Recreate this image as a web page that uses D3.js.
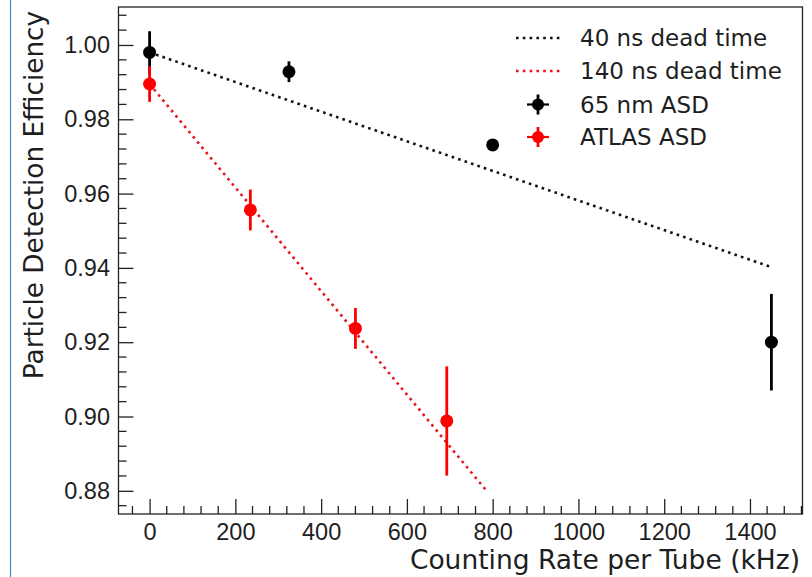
<!DOCTYPE html>
<html>
<head>
<meta charset="utf-8">
<script src="https://cdn.jsdelivr.net/npm/d3@7/dist/d3.min.js"></script>
<style>
  html, body { margin: 0; padding: 0; background: #fff; }
  svg { display: block; font-family: "DejaVu Sans", sans-serif; }
</style>
</head>
<body>
<svg id="chart" width="812" height="577"></svg>
<script>
// ---- data ----
const xTicks = [0, 200, 400, 600, 800, 1000, 1200, 1400];
const yTicks = [0.88, 0.90, 0.92, 0.94, 0.96, 0.98, 1.00];

const asd65Rate = [0, 325, 800, 1450];
const asd65Eff  = [0.998, 0.9928, 0.9731, 0.9200];
const asd65Err  = [0.0057, 0.0028, 0.0008, 0.0130];

const atlasRate = [0, 235, 480, 693];
const atlasEff  = [0.9895, 0.9556, 0.9237, 0.8988];
const atlasErr  = [0.0048, 0.0055, 0.0055, 0.0147];

const dt40Rate  = [0, 1450];
const dt40Eff   = [0.998, 0.9402];
const dt140Rate = [0, 788];
const dt140Eff  = [0.9895, 0.8797];

const legendLabels = ["40 ns dead time", "140 ns dead time", "65 nm ASD", "ATLAS ASD"];

// ---- layout ----
const svg = d3.select("#chart");
const L = 118.5, R = 802.5, T = 7, B = 514;
const x = d3.scaleLinear().domain([-72.5, 1522.5]).range([L, R]);
const y = d3.scaleLinear().domain([0.87376, 1.01022]).range([B, T]);
const axisColor = "#222";
const textColor = "#1e1e1e";

// blue edge line
svg.append("line").attr("x1", 10.5).attr("x2", 10.5).attr("y1", 0).attr("y2", 577)
  .attr("stroke", "#4a86c8").attr("stroke-width", 1.2);

// minor ticks
const xMinor = d3.range(-40, 1521, 40).filter(v => Math.abs(v % 200) > 1e-6);
const yMinor = d3.range(0, 34).map(i => 0.876 + i * 0.004)
  .filter(v => v < 1.01 && Math.abs((v * 1000) % 20) > 1e-3 && Math.abs((v * 1000) % 20 - 20) > 1e-3);

const g = svg.append("g");

// x axis
const xAxis = d3.axisBottom(x).tickValues(xTicks).tickSizeInner(-15).tickSizeOuter(0).tickPadding(0).tickFormat(d3.format("d"));
const gx = g.append("g").attr("transform", `translate(0,${B})`).call(xAxis);
gx.select(".domain").remove();
gx.selectAll("line").attr("stroke", axisColor).attr("stroke-width", 1.3);
gx.selectAll("text").attr("font-size", 23.5).attr("fill", textColor).attr("y", 26).attr("dy", 0);
g.append("g").selectAll("line").data(xMinor).join("line")
  .attr("x1", d => x(d)).attr("x2", d => x(d)).attr("y1", B).attr("y2", B - 8)
  .attr("stroke", axisColor).attr("stroke-width", 1.3);

// y axis
const yAxis = d3.axisLeft(y).tickValues(yTicks).tickSizeInner(-15).tickSizeOuter(0).tickPadding(8.5).tickFormat(d3.format(".2f"));
const gy = g.append("g").attr("transform", `translate(${L},0)`).call(yAxis);
gy.select(".domain").remove();
gy.selectAll("line").attr("stroke", axisColor).attr("stroke-width", 1.3);
gy.selectAll("text").attr("font-size", 23.5).attr("fill", textColor);
g.append("g").selectAll("line").data(yMinor).join("line")
  .attr("x1", L).attr("x2", L + 8).attr("y1", d => y(d)).attr("y2", d => y(d))
  .attr("stroke", axisColor).attr("stroke-width", 1.3);

// frame
svg.append("rect").attr("x", L).attr("y", T).attr("width", R - L).attr("height", B - T)
  .attr("fill", "none").attr("stroke", axisColor).attr("stroke-width", 1.3);

// axis labels
svg.append("text").attr("x", 800).attr("y", 569).attr("text-anchor", "end")
  .attr("font-size", 26.5).attr("fill", textColor).text("Counting Rate per Tube (kHz)");
svg.append("text").attr("transform", `translate(43,195) rotate(-90)`)
  .attr("text-anchor", "middle").attr("font-size", 26.3).attr("fill", textColor)
  .text("Particle Detection Efficiency");

// dead-time lines
const line = d3.line().x(d => x(d[0])).y(d => y(d[1]));
svg.append("path").datum(d3.zip(dt40Rate, dt40Eff)).attr("d", line)
  .attr("fill", "none").attr("stroke", "#111").attr("stroke-width", 2.6)
  .attr("stroke-dasharray", "2.6 4.2");
svg.append("path").datum(d3.zip(dt140Rate, dt140Eff)).attr("d", line)
  .attr("fill", "none").attr("stroke", "#e8141e").attr("stroke-width", 2.6)
  .attr("stroke-dasharray", "2.6 4.2");

// error bars + points
function series(rates, effs, errs, color) {
  const data = rates.map((r, i) => ({ r, e: effs[i], s: errs[i] }));
  const gs = svg.append("g");
  gs.selectAll("line").data(data).join("line")
    .attr("x1", d => x(d.r)).attr("x2", d => x(d.r))
    .attr("y1", d => y(d.e - d.s)).attr("y2", d => y(d.e + d.s))
    .attr("stroke", color).attr("stroke-width", 2.8);
  gs.selectAll("circle").data(data).join("circle")
    .attr("cx", d => x(d.r)).attr("cy", d => y(d.e)).attr("r", 6.5).attr("fill", color);
}
series(asd65Rate, asd65Eff, asd65Err, "#000");
series(atlasRate, atlasEff, atlasErr, "#f00");

// legend
const lg = svg.append("g");
const legendY = [38, 71, 104.5, 137];
const legendColors = ["#111", "#e8141e", "#000", "#f00"];
legendLabels.forEach((lab, i) => {
  const yy = legendY[i];
  if (i < 2) {
    lg.append("line").attr("x1", 516).attr("x2", 560).attr("y1", yy).attr("y2", yy)
      .attr("stroke", legendColors[i]).attr("stroke-width", 2.6).attr("stroke-dasharray", "2.6 4.2");
  } else {
    lg.append("line").attr("x1", 538).attr("x2", 538).attr("y1", yy - 10).attr("y2", yy + 10)
      .attr("stroke", legendColors[i]).attr("stroke-width", 2.8);
    lg.append("line").attr("x1", 527).attr("x2", 549).attr("y1", yy).attr("y2", yy)
      .attr("stroke", legendColors[i]).attr("stroke-width", 2.2);
    lg.append("circle").attr("cx", 538).attr("cy", yy).attr("r", 6).attr("fill", legendColors[i]);
  }
  lg.append("text").attr("x", 580).attr("y", yy).attr("dy", "0.36em")
    .attr("font-size", 23).attr("fill", textColor).text(lab);
});
</script>
</body>
</html>
